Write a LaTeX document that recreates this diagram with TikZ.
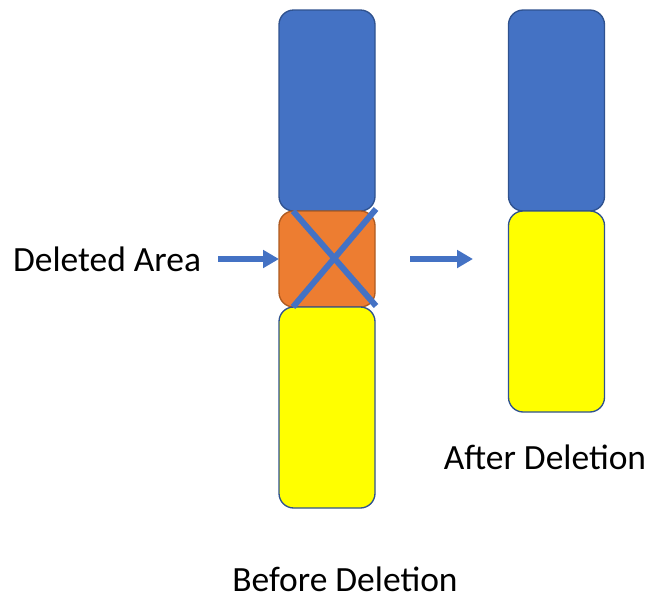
\documentclass[tikz,border=0pt]{standalone}
\usepackage{fontspec}
\setmainfont{Carlito}
\usetikzlibrary{arrows.meta,positioning,calc}

\definecolor{chromBlue}{HTML}{4472C4}
\definecolor{chromEdge}{HTML}{2F528F}
\definecolor{delOrange}{HTML}{ED7D31}
\definecolor{delEdge}{HTML}{AE5A21}
\definecolor{chromYellow}{HTML}{FFFF00}

\begin{document}
\begin{tikzpicture}[
  x=0.75pt, y=-0.75pt,
  font=\fontsize{26.6}{32}\selectfont,
  arm/.style={
    draw=chromEdge,
    line width=1pt,
    rounded corners=11pt,
    outer sep=0pt,
    minimum width=72pt,
    minimum height=150.75pt
  },
  bluearm/.style={arm, fill=chromBlue},
  yellowarm/.style={arm, fill=chromYellow},
  delbox/.style={arm, draw=delEdge, fill=delOrange, minimum height=72pt},
  cross/.style={draw=chromBlue, line width=4.5pt},
  pointer/.style={draw=chromBlue, line width=4.5pt,
    -{Triangle[length=12pt,width=13pt]}},
  caption/.style={inner sep=0pt}
]
\useasboundingbox (0,0) rectangle (649,597);

% chromosome before the deletion
\node[bluearm] (blueBefore) at (327,110.5) {};
\node[delbox,below=0pt of blueBefore] (delPart) {};
\node[yellowarm,below=0pt of delPart] (yellowBefore) {};
\draw[cross] ($(delPart.north west)+(14,0)$) -- ($(delPart.south east)+(1,-1)$);
\draw[cross] ($(delPart.north east)+(1,-2)$) -- ($(delPart.south west)+(14,0)$);

% chromosome after the deletion
\node[bluearm] (blueAfter) at (556.5,110.5) {};
\node[yellowarm,below=0pt of blueAfter] (yellowAfter) {};

% labels and arrows
\node[caption] (delLabel) at (107,259) {Deleted Area};
\coordinate (delTail) at (218,259);
\draw[pointer] (delTail) -- (delPart.west);
\coordinate (stepTail) at (410,259);
\coordinate (stepHead) at (473,259);
\draw[pointer] (stepTail) -- (stepHead);
\node[caption] (afterLabel) at (545,457) {After Deletion};
\node[caption] (beforeLabel) at (345,579) {Before Deletion};
\end{tikzpicture}
\end{document}
